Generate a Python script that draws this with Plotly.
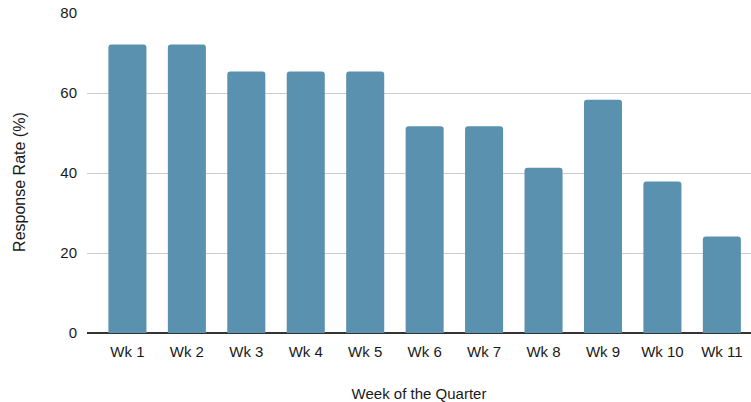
import plotly.graph_objects as go

weeks = ["Wk 1", "Wk 2", "Wk 3", "Wk 4", "Wk 5", "Wk 6",
         "Wk 7", "Wk 8", "Wk 9", "Wk 10", "Wk 11"]
response_rate = [72.1, 72.1, 65.4, 65.4, 65.4, 51.7, 51.7, 41.3, 58.3, 37.9, 24.1]
y_ticks = [0, 20, 40, 60, 80]

FONT = "Liberation Sans, Arial, sans-serif"
TEXT = "#1a1a1a"

fig = go.Figure(
    go.Bar(
        x=list(range(len(weeks))),
        y=response_rate,
        marker=dict(color="#5a91ae", line=dict(width=0)),
        width=0.64,
        hoverinfo="x+y",
    )
)

fig.update_layout(
    width=751,
    height=402,
    margin=dict(l=87, r=0, t=13, b=69),
    paper_bgcolor="white",
    plot_bgcolor="white",
    showlegend=False,
    barcornerradius=3,
    font=dict(family=FONT, size=15, color=TEXT),
    xaxis=dict(
        tickmode="array",
        tickvals=list(range(len(weeks))),
        ticktext=weeks,
        range=[-0.68, 10.49],
        showgrid=False,
        showline=False,
        zeroline=False,
        ticks="",
        ticklabelstandoff=8,
        title=dict(text="Week of the Quarter", standoff=30,
                   font=dict(family=FONT, size=15, color=TEXT)),
        automargin=False,
        fixedrange=True,
    ),
    yaxis=dict(
        range=[0, 80],
        tickvals=y_ticks,
        showgrid=True,
        gridcolor="#cccccc",
        gridwidth=1,
        zeroline=True,
        zerolinecolor="#333333",
        zerolinewidth=1.5,
        ticks="",
        ticklabelstandoff=9,
        automargin=False,
        fixedrange=True,
    ),
    annotations=[
        dict(
            text="Response Rate (%)",
            textangle=-90,
            xref="paper", yref="paper",
            x=-0.101, y=0.472,
            xanchor="center", yanchor="middle",
            showarrow=False,
            font=dict(family=FONT, size=16, color=TEXT),
        )
    ],
)

fig.write_html("out.html")
